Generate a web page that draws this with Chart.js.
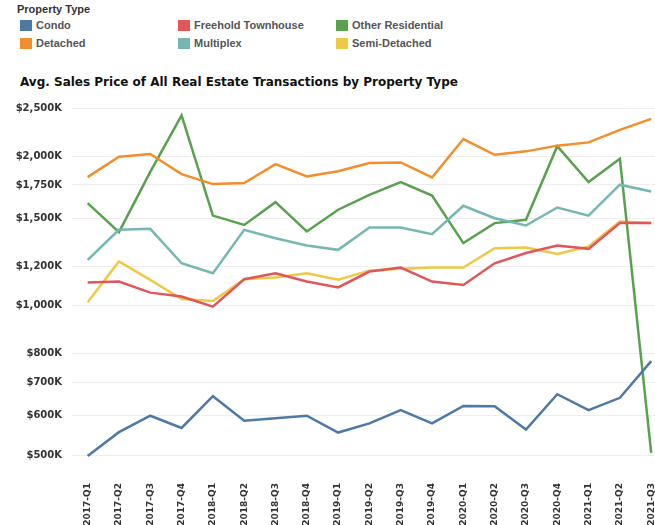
<!DOCTYPE html>
<html>
<head>
<meta charset="utf-8">
<script src="https://cdn.jsdelivr.net/npm/chart.js@4.4.1/dist/chart.umd.min.js"></script>
<style>
  html, body {
    margin: 0;
    padding: 0;
    background: #ffffff;
    overflow: hidden;
    width: 655px;
    height: 525px;
    font-family: "Liberation Sans", Arial, sans-serif;
  }
  #legend {
    position: absolute;
    left: 17px;
    top: 3px;
    color: #444;
  }
  #legend .head {
    font-size: 11px;
    font-weight: bold;
    color: #333;
    height: 13px;
  }
  #legend .items {
    display: grid;
    grid-template-rows: 18px 18px;
    grid-template-columns: 158px 158px 158px;
    grid-auto-flow: column;
  }
  #legend .item {
    display: flex;
    align-items: center;
    font-size: 11px;
    font-weight: bold;
    color: #555;
  }
  #legend .swatch {
    width: 12px;
    height: 11px;
    margin-left: 3px;
    margin-right: 4px;
  }
  #title {
    position: absolute;
    left: 20px;
    top: 75px;
    font-family: "DejaVu Sans", sans-serif;
    font-size: 12px;
    font-weight: bold;
    color: #111;
  }
  #wrap {
    position: absolute;
    left: 0;
    top: 0;
    width: 667px;
    height: 525px;
  }
</style>
</head>
<body>
<div id="legend">
  <div class="head">Property Type</div>
  <div class="items" id="legendItems"></div>
</div>
<div id="title">Avg. Sales Price of All Real Estate Transactions by Property Type</div>
<div id="wrap"><canvas id="priceChart"></canvas></div>

<script>
// ======================================================
// DATA (values in $K)
// ======================================================

const quarters = [
  "2017-Q1", "2017-Q2", "2017-Q3", "2017-Q4",
  "2018-Q1", "2018-Q2", "2018-Q3", "2018-Q4",
  "2019-Q1", "2019-Q2", "2019-Q3", "2019-Q4",
  "2020-Q1", "2020-Q2", "2020-Q3", "2020-Q4",
  "2021-Q1", "2021-Q2", "2021-Q3",
];

const condo = [498, 556, 600, 567, 657, 586, 593, 600, 555, 579, 616, 579, 628, 627, 563, 663, 616, 652, 773];
const detached = [1815, 1995, 2020, 1840, 1757, 1765, 1928, 1820, 1865, 1937, 1943, 1812, 2165, 2013, 2045, 2100, 2132, 2260, 2378];
const freeholdTownhouse = [1113, 1118, 1062, 1043, 995, 1130, 1162, 1118, 1088, 1171, 1193, 1118, 1100, 1217, 1276, 1321, 1301, 1466, 1466];
const multiplex = [1236, 1421, 1428, 1217, 1162, 1421, 1367, 1321, 1295, 1436, 1436, 1393, 1589, 1500, 1450, 1576, 1518, 1752, 1698];
const otherResidential = [1608, 1406, 1860, 2415, 1518, 1454, 1616, 1410, 1560, 1672, 1774, 1666, 1336, 1466, 1489, 2095, 1774, 1976, 505];
const semiDetached = [1016, 1227, 1127, 1031, 1022, 1130, 1139, 1162, 1127, 1176, 1186, 1193, 1193, 1305, 1309, 1270, 1315, 1477, 1466];

const yTicks = [500, 600, 700, 800, 1000, 1200, 1500, 1750, 2000, 2500];

// ======================================================
// SERIES CONFIG
// ======================================================

const series = [
  { label: "Condo", data: condo, color: "#4e79a7" },
  { label: "Detached", data: detached, color: "#f28e2b" },
  { label: "Freehold Townhouse", data: freeholdTownhouse, color: "#e15759" },
  { label: "Multiplex", data: multiplex, color: "#76b7b2" },
  { label: "Other Residential", data: otherResidential, color: "#59a14f" },
  { label: "Semi-Detached", data: semiDetached, color: "#edc948" },
];

// Legend (HTML, column-major like the original)
const legendItems = document.getElementById("legendItems");
series.forEach((s) => {
  const el = document.createElement("div");
  el.className = "item";
  el.innerHTML = `<span class="swatch" style="background:${s.color}"></span>${s.label}`;
  legendItems.appendChild(el);
});

// ======================================================
// CHART
// ======================================================

Chart.defaults.font.family = "'DejaVu Sans', sans-serif";

const ctx = document.getElementById("priceChart").getContext("2d");

new Chart(ctx, {
  type: "line",
  data: {
    labels: quarters,
    datasets: series.map((s) => ({
      label: s.label,
      data: s.data,
      borderColor: s.color,
      backgroundColor: s.color,
      borderWidth: 2.5,
      pointRadius: 0,
      tension: 0,
      fill: false,
    })),
  },
  options: {
    responsive: true,
    maintainAspectRatio: false,
    animation: false,
    layout: {
      padding: { top: 100, left: 0, right: 0, bottom: 0 },
    },
    plugins: {
      legend: { display: false },
      title: { display: false },
      tooltip: { enabled: false },
    },
    scales: {
      x: {
        offset: true,
        grid: { display: false },
        border: { display: false },
        afterFit: (scale) => {
          scale.height = 55;
        },
        ticks: {
          minRotation: 90,
          maxRotation: 90,
          autoSkip: false,
          padding: 5,
          color: "#333",
          font: { size: 9, weight: "bold" },
        },
      },
      y: {
        type: "logarithmic",
        min: 466.5,
        max: 2595,
        afterFit: (scale) => {
          scale.width = 72;
        },
        afterBuildTicks: (scale) => {
          scale.ticks = yTicks.map((v) => ({ value: v }));
        },
        grid: {
          color: "#eeeeee",
          lineWidth: 1,
          drawTicks: false,
        },
        border: { display: false },
        ticks: {
          padding: 10,
          color: "#333",
          font: { size: 10, weight: "bold" },
          callback: (value) => "$" + Number(value).toLocaleString("en-US") + "K",
        },
      },
    },
  },
});
</script>
</body>
</html>
